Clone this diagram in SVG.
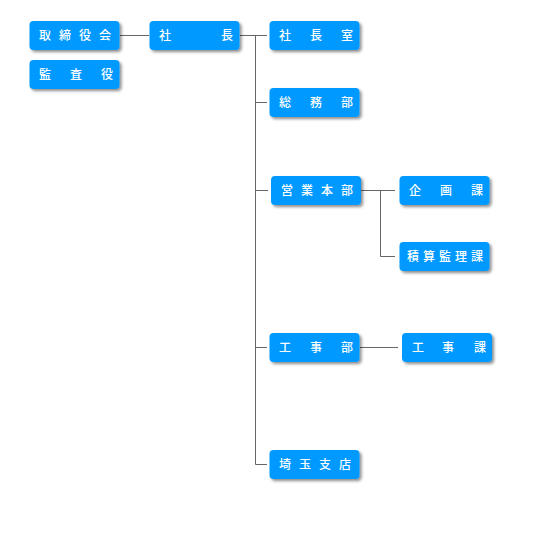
<svg xmlns="http://www.w3.org/2000/svg" width="536" height="544" viewBox="0 0 536 544">
<defs>
<filter id="sh" x="-10%" y="-20%" width="130%" height="160%">
<feDropShadow dx="2" dy="2" stdDeviation="1.5" flood-color="#000" flood-opacity="0.45"/>
</filter>
<style>
.box{fill:#0099ff;filter:url(#sh)}
.t{fill:#fff;font-family:"Noto Sans CJK JP","Noto Sans CJK SC",sans-serif;font-size:12px;font-weight:500}
.c{stroke:#666;stroke-width:1;fill:none}
</style>
</defs>
<rect width="536" height="544" fill="#fff"/>
<g id="connectors">
<path class="c" d="M120 35.5H149"/>
<path class="c" d="M240 35.5H267M255.5 35.5V464.5M255.5 102.5H267M255.5 190.5H268M255.5 347.5H267M255.5 464.5H267"/>
<path class="c" d="M361 190.5H395M380.5 190.5V256.5H395"/>
<path class="c" d="M360 347.5H398"/>
</g>
<g id="torishimariyakukai"><rect class="box" x="29.5" y="21" width="90" height="29" rx="4"/><text class="t" x="39 59 79 99" y="40">取締役会</text></g>
<g id="kansayaku"><rect class="box" x="29.5" y="60" width="90" height="29" rx="4"/><text class="t" x="39 70 101" y="79">監査役</text></g>
<g id="shacho"><rect class="box" x="149.5" y="21" width="90" height="29" rx="4"/><text class="t" x="159 221" y="40">社長</text></g>
<g id="shachoshitsu"><rect class="box" x="269.5" y="21" width="90" height="29" rx="4"/><text class="t" x="279 310 341" y="40">社長室</text></g>
<g id="somubu"><rect class="box" x="269.5" y="88" width="90" height="29" rx="4"/><text class="t" x="279 310 341" y="107">総務部</text></g>
<g id="eigyohonbu"><rect class="box" x="271" y="176" width="90" height="29" rx="4"/><text class="t" x="281 301 321 341" y="195">営業本部</text></g>
<g id="kikakuka"><rect class="box" x="399.5" y="176" width="90" height="29" rx="4"/><text class="t" x="409 440 471" y="195">企画課</text></g>
<g id="sekisankanrika"><rect class="box" x="399.5" y="242" width="90" height="29" rx="4"/><text class="t" x="407 423 439 455 471" y="261">積算監理課</text></g>
<g id="kojibu"><rect class="box" x="269.5" y="333" width="90" height="29" rx="4"/><text class="t" x="279 310 341" y="352">工事部</text></g>
<g id="kojika"><rect class="box" x="402" y="333" width="90" height="29" rx="4"/><text class="t" x="412 442 474" y="352">工事課</text></g>
<g id="saitamashiten"><rect class="box" x="269.5" y="450" width="90" height="29" rx="4"/><text class="t" x="279 299 319 339" y="469">埼玉支店</text></g>
</svg>
